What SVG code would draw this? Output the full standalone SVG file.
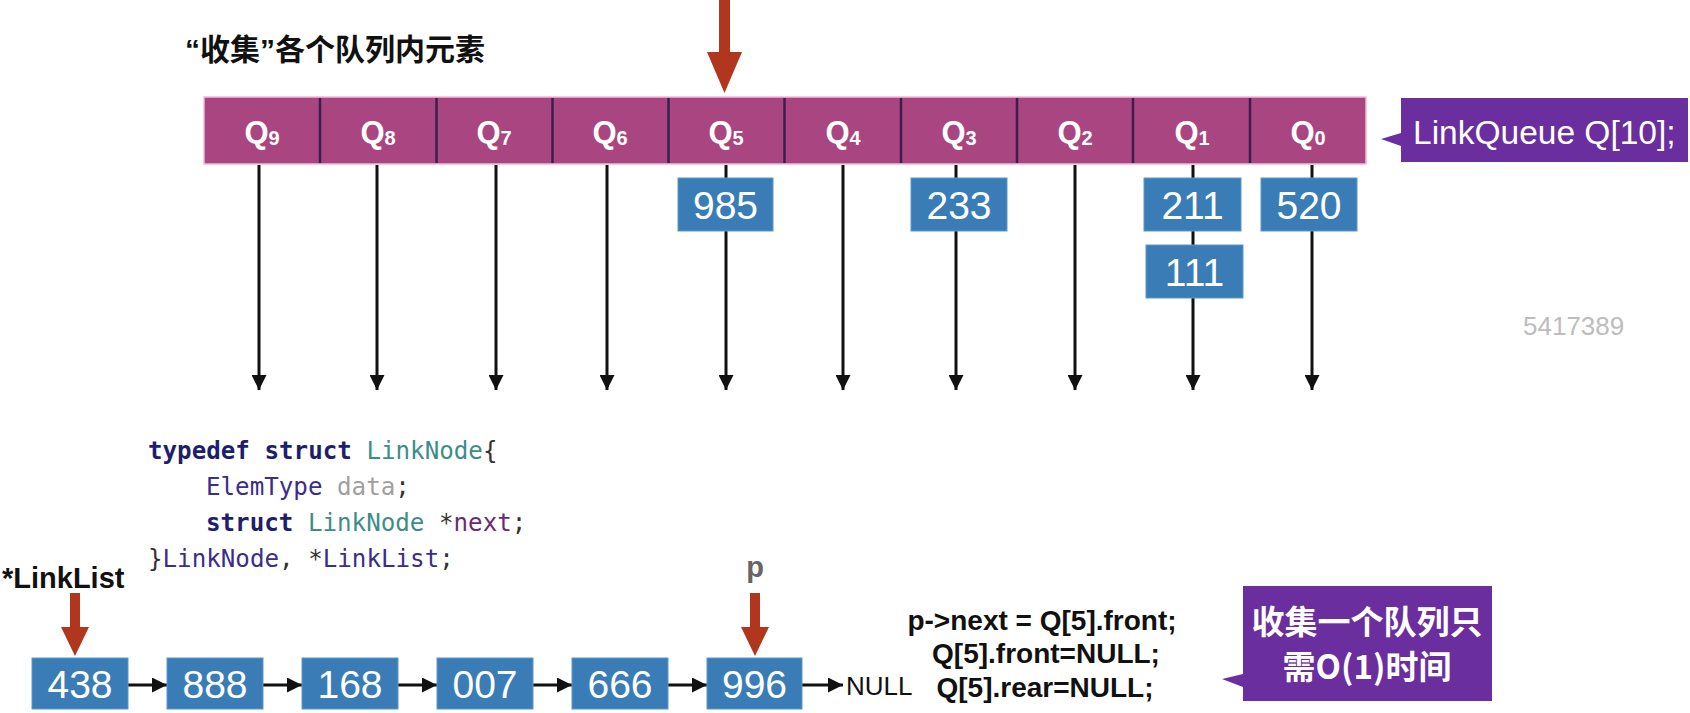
<svg xmlns="http://www.w3.org/2000/svg" width="1690" height="713" viewBox="0 0 1690 713">
<defs>
<style>
.bg{fill:#ffffff}
.cell{fill:#A94682}
.div{stroke:#3B1E4B;stroke-width:2.5}
.ql{font-family:"Liberation Sans",Arial,sans-serif;font-weight:bold;font-size:31px;fill:#ffffff;text-anchor:middle}
.qs{font-size:20px}
.box{fill:#3A7DB6;stroke:#5C98CC;stroke-width:1}
.num{font-family:"Liberation Sans",Arial,sans-serif;font-size:39px;fill:#ffffff;text-anchor:middle}
.vline{stroke:#111111;stroke-width:3;fill:none}
.red{fill:#B1361E}
.callout{fill:#6A2E9E}
.ct{font-family:"Liberation Sans",Arial,sans-serif;font-size:33.5px;fill:#ffffff}
.cjk{font-family:"Noto Sans CJK SC","Noto Sans CJK TC",sans-serif}
.code{font-family:"DejaVu Sans Mono","Liberation Mono",monospace;font-size:24.2px;fill:#333333}
.kw{fill:#1E1E6E;font-weight:bold}
.ty{fill:#3D8D8A}
.id{fill:#3B2D8A}
.gr{fill:#A0A0A0}
.pu{fill:#6A2A78}
.rc{font-family:"Liberation Sans",Arial,sans-serif;font-weight:bold;font-size:28px;fill:#111111;text-anchor:middle}
</style>
<marker id="ah" viewBox="0 0 15 15" refX="15" refY="7.5" markerWidth="15" markerHeight="15" markerUnits="userSpaceOnUse" orient="auto">
<path d="M0,0 L15,7.5 L0,15 z" fill="#111111"/>
</marker>
</defs>
<rect class="bg" x="0" y="0" width="1690" height="713"/>

<g id="title">
<text x="185" y="60" font-size="30" font-weight="bold" fill="#111111" class="cjk"><tspan font-family="Liberation Sans" font-weight="bold">“</tspan>收集<tspan font-family="Liberation Sans" font-weight="bold">”</tspan>各个队列内元素</text>
</g>

<g id="queue-array">
<rect class="cell" x="204" y="97" width="1162" height="67" stroke="#F2BADB" stroke-width="1.5"/>
<line class="div" x1="320" y1="98" x2="320" y2="163"/>
<line class="div" x1="436.5" y1="98" x2="436.5" y2="163"/>
<line class="div" x1="552.5" y1="98" x2="552.5" y2="163"/>
<line class="div" x1="668.5" y1="98" x2="668.5" y2="163"/>
<line class="div" x1="784.5" y1="98" x2="784.5" y2="163"/>
<line class="div" x1="901" y1="98" x2="901" y2="163"/>
<line class="div" x1="1017" y1="98" x2="1017" y2="163"/>
<line class="div" x1="1133" y1="98" x2="1133" y2="163"/>
<line class="div" x1="1250" y1="98" x2="1250" y2="163"/>
<text class="ql" x="262" y="143">Q<tspan class="qs" dy="2">9</tspan></text>
<text class="ql" x="378" y="143">Q<tspan class="qs" dy="2">8</tspan></text>
<text class="ql" x="494" y="143">Q<tspan class="qs" dy="2">7</tspan></text>
<text class="ql" x="610" y="143">Q<tspan class="qs" dy="2">6</tspan></text>
<text class="ql" x="726" y="143">Q<tspan class="qs" dy="2">5</tspan></text>
<text class="ql" x="843" y="143">Q<tspan class="qs" dy="2">4</tspan></text>
<text class="ql" x="959" y="143">Q<tspan class="qs" dy="2">3</tspan></text>
<text class="ql" x="1075" y="143">Q<tspan class="qs" dy="2">2</tspan></text>
<text class="ql" x="1192" y="143">Q<tspan class="qs" dy="2">1</tspan></text>
<text class="ql" x="1308" y="143">Q<tspan class="qs" dy="2">0</tspan></text>
</g>

<g id="connectors">
<line class="vline" x1="259" y1="165" x2="259" y2="390" marker-end="url(#ah)"/>
<line class="vline" x1="377" y1="165" x2="377" y2="390" marker-end="url(#ah)"/>
<line class="vline" x1="496" y1="165" x2="496" y2="390" marker-end="url(#ah)"/>
<line class="vline" x1="607" y1="165" x2="607" y2="390" marker-end="url(#ah)"/>
<line class="vline" x1="726" y1="165" x2="726" y2="390" marker-end="url(#ah)"/>
<line class="vline" x1="843" y1="165" x2="843" y2="390" marker-end="url(#ah)"/>
<line class="vline" x1="956" y1="165" x2="956" y2="390" marker-end="url(#ah)"/>
<line class="vline" x1="1075" y1="165" x2="1075" y2="390" marker-end="url(#ah)"/>
<line class="vline" x1="1193" y1="165" x2="1193" y2="390" marker-end="url(#ah)"/>
<line class="vline" x1="1312" y1="165" x2="1312" y2="390" marker-end="url(#ah)"/>
<line class="vline" x1="127" y1="685" x2="167" y2="685" marker-end="url(#ah)"/>
<line class="vline" x1="262" y1="685" x2="302" y2="685" marker-end="url(#ah)"/>
<line class="vline" x1="397" y1="685" x2="437" y2="685" marker-end="url(#ah)"/>
<line class="vline" x1="532" y1="685" x2="572" y2="685" marker-end="url(#ah)"/>
<line class="vline" x1="667" y1="685" x2="707" y2="685" marker-end="url(#ah)"/>
<line class="vline" x1="802" y1="685" x2="843" y2="685" marker-end="url(#ah)"/>
<path class="red" d="M719,0 L730,0 L730,52 L742,52 L724.5,93 L707,52 L719,52 z"/>
<path class="red" d="M70,593 L80,593 L80,627 L89,627 L75,656 L61,627 L70,627 z"/>
<path class="red" d="M750,593 L760,593 L760,627 L769,627 L755,656 L741,627 L750,627 z"/>
</g>

<g id="q-elements">
<g id="n985"><rect class="box" x="678" y="178" width="95" height="53"/><text class="num" x="725.5" y="219">985</text></g>
<g id="n233"><rect class="box" x="911" y="178" width="96" height="53"/><text class="num" x="959" y="219">233</text></g>
<g id="n211"><rect class="box" x="1144" y="178" width="97" height="53"/><text class="num" x="1192.5" y="219">211</text></g>
<g id="n111"><rect class="box" x="1146" y="245" width="97" height="53"/><text class="num" x="1194.5" y="286">111</text></g>
<g id="n520"><rect class="box" x="1261" y="178" width="96" height="53"/><text class="num" x="1309" y="219">520</text></g>
</g>

<g id="callout-linkqueue">
<path class="callout" d="M1401,98 L1688,98 L1688,162 L1401,162 L1401,146 L1381,139 L1401,133 z"/>
<text class="ct" x="1413" y="144">LinkQueue Q[10];</text>
</g>

<g id="watermark">
<text x="1523" y="335" font-family="Liberation Sans, Arial, sans-serif" font-size="26" fill="#BDBDBD">5417389</text>
</g>

<g id="code-struct">
<text class="code" x="148" y="459"><tspan class="kw">typedef</tspan> <tspan class="kw">struct</tspan> <tspan class="ty">LinkNode</tspan>{</text>
<text class="code" x="206" y="495"><tspan class="id">ElemType</tspan> <tspan class="gr">data</tspan>;</text>
<text class="code" x="206" y="531"><tspan class="kw">struct</tspan> <tspan class="ty">LinkNode</tspan> *<tspan class="pu">next</tspan>;</text>
<text class="code" x="148" y="567">}<tspan class="id">LinkNode</tspan>, *<tspan class="id">LinkList</tspan>;</text>
</g>

<g id="label-linklist">
<text x="2" y="588" font-family="Liberation Sans, Arial, sans-serif" font-weight="bold" font-size="29" fill="#111111">*LinkList</text>
</g>

<g id="label-p">
<text x="755" y="577" font-family="Liberation Sans, Arial, sans-serif" font-weight="bold" font-size="29" fill="#666666" text-anchor="middle">p</text>
</g>

<g id="list">
<g id="l438"><rect class="box" x="32" y="658" width="96" height="51"/><text class="num" x="80" y="698">438</text></g>
<g id="l888"><rect class="box" x="167" y="658" width="96" height="51"/><text class="num" x="215" y="698">888</text></g>
<g id="l168"><rect class="box" x="302" y="658" width="96" height="51"/><text class="num" x="350" y="698">168</text></g>
<g id="l007"><rect class="box" x="437" y="658" width="96" height="51"/><text class="num" x="485" y="698">007</text></g>
<g id="l666"><rect class="box" x="572" y="658" width="96" height="51"/><text class="num" x="620" y="698">666</text></g>
<g id="l996"><rect class="box" x="707" y="658" width="95" height="51"/><text class="num" x="754.5" y="698">996</text></g>
<g id="null"><text x="846" y="695" font-family="Liberation Sans, Arial, sans-serif" font-size="26" fill="#111111">NULL</text></g>
</g>

<g id="code-collect">
<text class="rc" x="1042" y="630">p-&gt;next = Q[5].front;</text>
<text class="rc" x="1046" y="663">Q[5].front=NULL;</text>
<text class="rc" x="1045" y="697">Q[5].rear=NULL;</text>
</g>

<g id="callout-o1">
<path class="callout" d="M1243,586 L1492,586 L1492,701 L1243,701 L1243,687 L1222,679 L1243,674 z"/>
<text class="cjk" x="1367" y="634" font-size="33" font-weight="bold" fill="#ffffff" text-anchor="middle">收集一个队列只</text>
<text class="cjk" x="1367" y="679" font-size="33" font-weight="bold" fill="#ffffff" text-anchor="middle">需O(1)时间</text>
</g>
</svg>
